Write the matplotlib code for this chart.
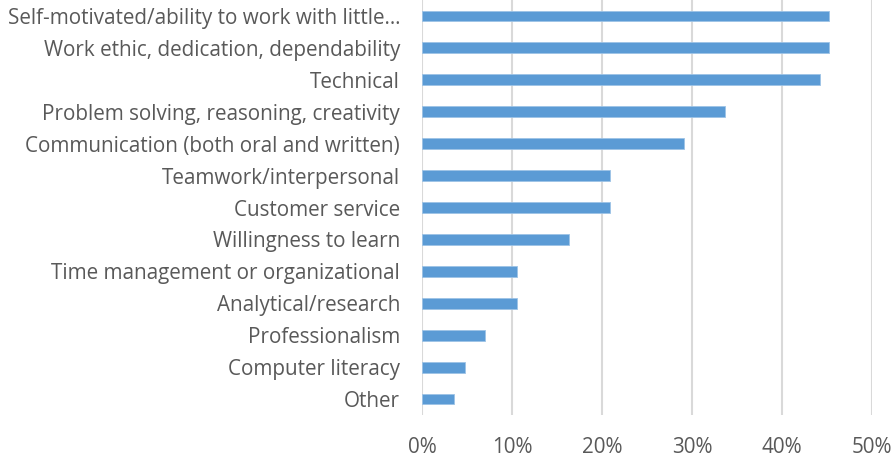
import matplotlib
matplotlib.use('Agg')
import matplotlib.pyplot as plt
from matplotlib.ticker import PercentFormatter

plt.rcParams['font.family'] = ['Open Sans', 'DejaVu Sans']
plt.rcParams['font.stretch'] = 'normal'

skills = [
    "Self-motivated/ability to work with little…",
    "Work ethic, dedication, dependability",
    "Technical",
    "Problem solving, reasoning, creativity",
    "Communication (both oral and written)",
    "Teamwork/interpersonal",
    "Customer service",
    "Willingness to learn",
    "Time management or organizational",
    "Analytical/research",
    "Professionalism",
    "Computer literacy",
    "Other",
]
shares = [45.3, 45.3, 44.2, 33.7, 29.1, 20.9, 20.9, 16.3, 10.5, 10.5, 7.0, 4.7, 3.5]
x_ticks = [0, 10, 20, 30, 40, 50]

fig = plt.figure(figsize=(8.93, 4.61), dpi=100)
ax = fig.add_axes([422.3 / 893, 1 - 415 / 461, 449.4 / 893, 415 / 461])

pos = list(range(len(skills)))
ax.barh(pos, shares, height=0.34, color='#5B9BD5', edgecolor='#9DC3E6', linewidth=0.6, zorder=3)

ax.set_ylim(len(skills) - 0.5, -0.5)
ax.set_xlim(0, 50)
ax.set_xticks(x_ticks)
ax.xaxis.set_major_formatter(PercentFormatter(decimals=0))
ax.set_yticks(pos)
ax.set_yticklabels(skills)

ax.grid(axis='x', color='#D9D9D9', linewidth=1.5, zorder=0)
for s in ax.spines.values():
    s.set_visible(False)
ax.tick_params(axis='both', length=0, labelsize=14.9, colors='#595959')
ax.tick_params(axis='y', pad=16)
ax.tick_params(axis='x', pad=16)

fig.savefig('out.png', dpi=100)
